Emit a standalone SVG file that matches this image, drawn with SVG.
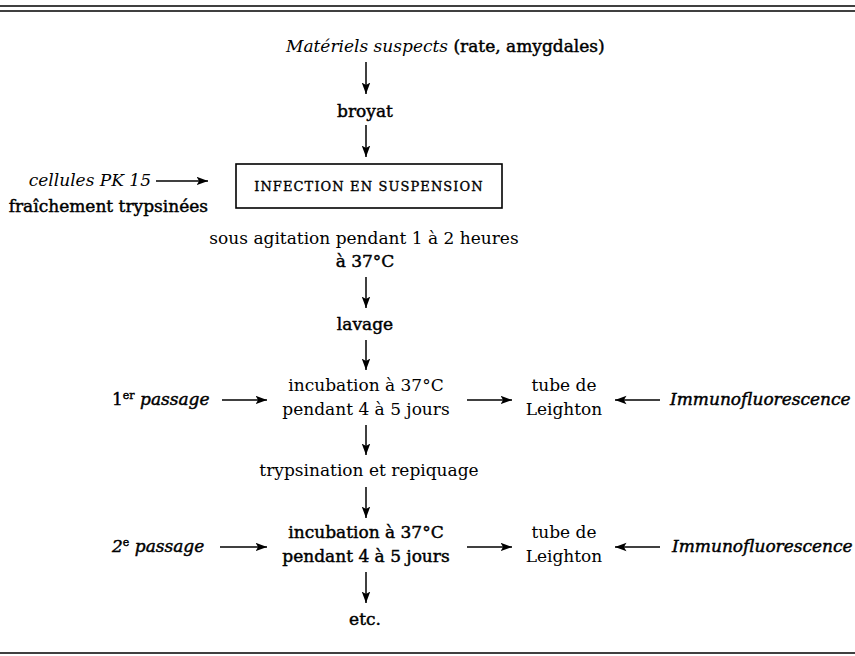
<svg xmlns="http://www.w3.org/2000/svg" width="855" height="656" viewBox="0 0 855 656">
<style>
text { font-family: "DejaVu Serif", "Liberation Serif", serif; font-size: 17px; fill: #000; }
.it { font-style: italic; }
.hv { stroke: #000; stroke-width: 0.45; }
.sc { font-size: 13px; letter-spacing: 1.1px; stroke: #000; stroke-width: 0.35; }
.sup { font-size: 11px; }
.mid { text-anchor: middle; }
.end { text-anchor: end; }
.rule { stroke: #000; stroke-width: 1.6; }
#connectors line { stroke: #000; stroke-width: 1.5; marker-end: url(#ah); }
.box { fill: none; stroke: #000; stroke-width: 1.6; }
</style>
<defs>
<marker id="ah" markerUnits="userSpaceOnUse" markerWidth="13" markerHeight="10" refX="11.5" refY="4.5" orient="auto">
<path d="M0,0.2 L11.5,4.5 L0,8.8 L2.6,4.5 z" fill="#000"/>
</marker>
</defs>
<rect width="855" height="656" fill="#fff"/>
<g id="rules">
<line class="rule" x1="0" y1="6" x2="855" y2="6"/>
<line class="rule" x1="0" y1="11" x2="855" y2="11"/>
<line class="rule" x1="0" y1="653" x2="855" y2="653" stroke-width="2"/>
</g>
<g id="materiels"><text x="286" y="52"><tspan class="it">Matériels suspects</tspan><tspan class="hv"> (rate, amygdales)</tspan></text></g>
<g id="broyat"><text class="mid hv" x="365" y="117">broyat</text></g>
<g id="infection">
<rect class="box" x="236" y="164" width="266" height="44"/>
<text class="mid sc" x="369" y="191">INFECTION EN SUSPENSION</text>
</g>
<g id="cellules">
<text class="it end" x="151" y="186">cellules PK 15</text>
<text class="hv end" x="208" y="212">fraîchement trypsinées</text>
</g>
<g id="agitation">
<text class="mid" x="364" y="244">sous agitation pendant 1 à 2 heures</text>
<text class="mid hv" x="365" y="267">à 37°C</text>
</g>
<g id="lavage"><text class="mid hv" x="365" y="330">lavage</text></g>
<g id="passage1"><text class="hv" x="112" y="405">1<tspan class="sup" dy="-6">er</tspan><tspan dy="6"> </tspan><tspan class="it">passage</tspan></text></g>
<g id="incubation1">
<text class="mid" x="366" y="391">incubation à 37°C</text>
<text class="mid" x="366" y="415">pendant 4 à 5 jours</text>
</g>
<g id="leighton1">
<text class="mid" x="564" y="391">tube de</text>
<text class="mid" x="564" y="415">Leighton</text>
</g>
<g id="immuno1"><text class="it hv" x="670" y="405">Immunofluorescence</text></g>
<g id="trypsination"><text class="mid" x="369" y="476">trypsination et repiquage</text></g>
<g id="passage2"><text class="hv" x="112" y="552"><tspan class="it">2</tspan><tspan class="sup" dy="-6">e</tspan><tspan dy="6"> </tspan><tspan class="it">passage</tspan></text></g>
<g id="incubation2">
<text class="mid hv" x="366" y="538" stroke-width="0.25">incubation à 37°C</text>
<text class="mid hv" x="366" y="562" stroke-width="0.25">pendant 4 à 5 jours</text>
</g>
<g id="leighton2">
<text class="mid" x="564" y="538">tube de</text>
<text class="mid" x="564" y="562">Leighton</text>
</g>
<g id="immuno2"><text class="it hv" x="672" y="552">Immunofluorescence</text></g>
<g id="etc"><text class="mid hv" x="365" y="625">etc.</text></g>
<g id="connectors">
<line x1="366" y1="62" x2="366" y2="94"/>
<line x1="366" y1="125" x2="366" y2="157"/>
<line x1="156" y1="181" x2="208" y2="181"/>
<line x1="366" y1="277" x2="366" y2="308"/>
<line x1="366" y1="340" x2="366" y2="370"/>
<line x1="222" y1="400" x2="267" y2="400"/>
<line x1="467" y1="400" x2="512" y2="400"/>
<line x1="660" y1="400" x2="615" y2="400"/>
<line x1="366" y1="425" x2="366" y2="455"/>
<line x1="366" y1="487" x2="366" y2="518"/>
<line x1="220" y1="547" x2="267" y2="547"/>
<line x1="467" y1="547" x2="512" y2="547"/>
<line x1="660" y1="547" x2="615" y2="547"/>
<line x1="366" y1="572" x2="366" y2="603"/>
</g>
</svg>
